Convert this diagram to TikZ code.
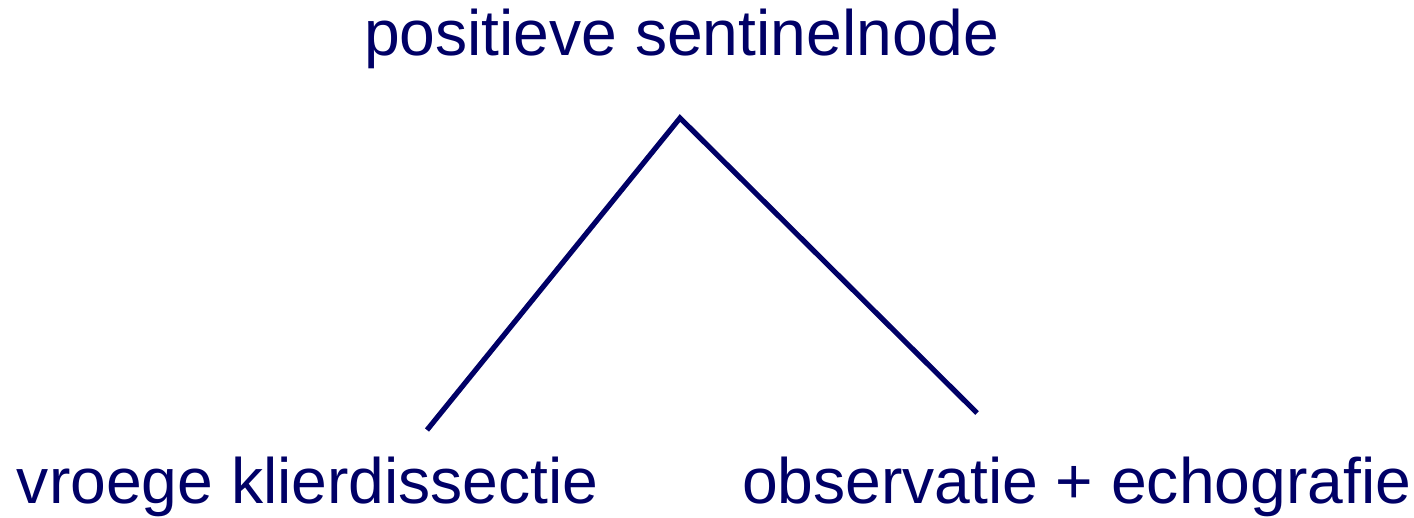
\documentclass[tikz,border=0pt]{standalone}
\usepackage{fontspec}
\setmainfont{Liberation Sans}
\definecolor{navy}{HTML}{000066}
\begin{document}
\begin{tikzpicture}[x=0.5pt,y=-0.5pt,
  lbl/.style={anchor=base west,inner sep=0pt,outer sep=0pt,text=navy,font=\fontsize{32.1}{38}\selectfont},
  branch/.style={draw=navy,line width=2.6pt,line join=miter}]
\useasboundingbox (0,0) rectangle (1414,518);
\node[lbl] (root) at (364,56) {positieve sentinelnode};
\node[lbl] (left) at (17,503) {vroege klierdissectie};
\node[lbl] (right) at (742,503) {observatie + echografie};
\coordinate (apex) at (680,118);
\coordinate (lend) at (427,430);
\coordinate (rend) at (977,413);
\draw[branch] (lend) -- (apex) -- (rend);
\end{tikzpicture}
\end{document}
